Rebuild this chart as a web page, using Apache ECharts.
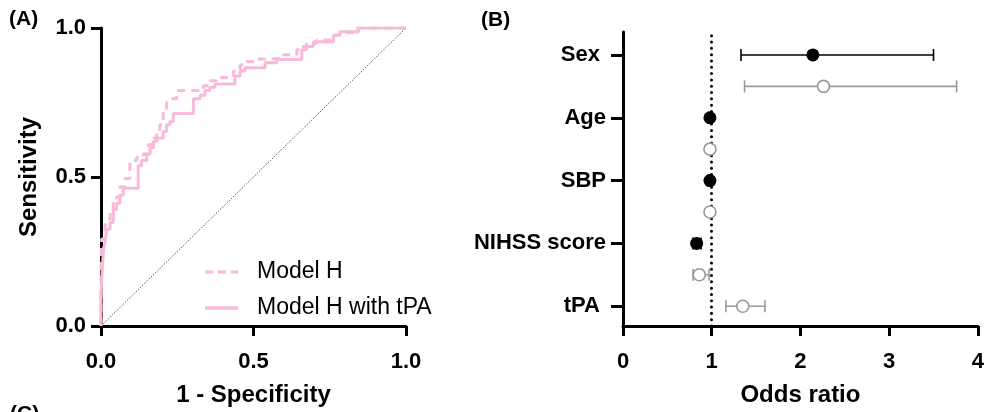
<!DOCTYPE html>
<html>
<head>
<meta charset="utf-8">
<script src="https://cdn.jsdelivr.net/npm/echarts@6/dist/echarts.min.js"></script>
<style>
html,body{margin:0;padding:0;background:#fff;}
#chart{width:987px;height:412px;}
</style>
</head>
<body>
<div id="chart"></div>
<script>
// ---- Panel A: ROC curves ----
const rocFprH = [0, 0.002, 0.013, 0.019, 0.030, 0.040, 0.051, 0.062, 0.079, 0.095, 0.095, 0.117, 0.139, 0.155, 0.172, 0.183, 0.193, 0.204, 0.215, 0.221, 0.248, 0.259, 0.336, 0.357, 0.379, 0.434, 0.456, 0.478, 0.510, 0.554, 0.598, 0.642, 0.652, 0.674, 0.707, 0.762, 0.773, 0.795, 0.838, 0.849, 1.0];
const rocSensH = [0, 0.172, 0.292, 0.336, 0.358, 0.391, 0.423, 0.434, 0.467, 0.495, 0.555, 0.555, 0.566, 0.577, 0.609, 0.631, 0.653, 0.675, 0.719, 0.746, 0.763, 0.790, 0.790, 0.806, 0.823, 0.834, 0.856, 0.877, 0.888, 0.896, 0.899, 0.910, 0.927, 0.938, 0.949, 0.960, 0.976, 0.982, 0.987, 1.0, 1.0];
const rocFprT = [0, 0.002, 0.008, 0.013, 0.019, 0.030, 0.040, 0.051, 0.062, 0.073, 0.084, 0.122, 0.122, 0.133, 0.150, 0.161, 0.172, 0.183, 0.204, 0.215, 0.226, 0.237, 0.248, 0.303, 0.303, 0.325, 0.341, 0.357, 0.374, 0.390, 0.439, 0.439, 0.456, 0.472, 0.478, 0.538, 0.538, 0.576, 0.576, 0.658, 0.658, 0.674, 0.696, 0.702, 0.762, 0.762, 0.784, 0.805, 0.844, 0.844, 1.0];
const rocSensT = [0, 0.084, 0.150, 0.259, 0.281, 0.325, 0.347, 0.391, 0.412, 0.440, 0.462, 0.462, 0.527, 0.538, 0.555, 0.577, 0.598, 0.620, 0.631, 0.653, 0.675, 0.686, 0.713, 0.713, 0.741, 0.763, 0.774, 0.790, 0.801, 0.812, 0.812, 0.828, 0.839, 0.856, 0.867, 0.867, 0.883, 0.883, 0.894, 0.894, 0.910, 0.927, 0.938, 0.954, 0.954, 0.965, 0.976, 0.987, 0.987, 1.0, 1.0];
const refLine = [0, 1];
const rocSeriesNames = ['Model H', 'Model H with tPA'];

// ---- Panel B: odds ratios ----
const orCategories = ['Sex', 'Age', 'SBP', 'NIHSS score', 'tPA'];
const orModelH   = [2.14, 0.98, 0.98, 0.83, null];
const orModelHLo = [1.33, 0.96, 0.96, 0.79, null];
const orModelHHi = [3.50, 1.00, 1.00, 0.88, null];
const orModelT   = [2.26, 0.98, 0.98, 0.86, 1.35];
const orModelTLo = [1.37, 0.96, 0.96, 0.79, 1.16];
const orModelTHi = [3.76, 1.00, 1.00, 0.97, 1.60];
const orRefValue = 1;

const PINK = '#F8BAD8';
const GRAY = '#999999';
const FONT = 'Liberation Sans';

// row positions (layout)
const nCat = orCategories.length;
const rowFilled = [], rowOpen = [];
const labelRows = [];
for (let i = 0; i < nCat; i++) {
  const top = 2 * (nCat - 1) + 1 - 2 * i; // 9,7,5,3,1
  labelRows.push(top);
  if (orModelH[i] != null) { rowFilled.push(top); rowOpen.push(top - 1); }
  else { rowFilled.push(null); rowOpen.push(top); }
}

const dataH = rocFprH.map((x, i) => [x, rocSensH[i]]);
const dataT = rocFprT.map((x, i) => [x, rocSensT[i]]);

const filledPts = [], filledBars = [], openPts = [], openBars = [];
for (let i = 0; i < nCat; i++) {
  if (orModelH[i] != null) {
    filledPts.push([orModelH[i], rowFilled[i]]);
    filledBars.push([orModelHLo[i], orModelHHi[i], rowFilled[i]]);
  }
  openPts.push([orModelT[i], rowOpen[i]]);
  openBars.push([orModelTLo[i], orModelTHi[i], rowOpen[i]]);
}

function errRender(color) {
  return function (params, api) {
    const lo = api.coord([api.value(0), api.value(2)]);
    const hi = api.coord([api.value(1), api.value(2)]);
    const h = 6;
    const st = { stroke: color, lineWidth: 1.6 };
    return {
      type: 'group',
      children: [
        { type: 'line', shape: { x1: lo[0], y1: lo[1], x2: hi[0], y2: hi[1] }, style: st },
        { type: 'line', shape: { x1: lo[0], y1: lo[1] - h, x2: lo[0], y2: lo[1] + h }, style: st },
        { type: 'line', shape: { x1: hi[0], y1: hi[1] - h, x2: hi[0], y2: hi[1] + h }, style: st }
      ]
    };
  };
}

const axisLineStyle = { color: '#000', width: 3 };
const tickLabel = { color: '#000', fontSize: 22, fontWeight: 'bold', fontFamily: FONT };
const nameStyle = { color: '#000', fontSize: 24, fontWeight: 'bold', fontFamily: FONT };
const legendText = { fontSize: 23, fontFamily: FONT, fill: '#000' };

const chart = echarts.init(document.getElementById('chart'), null, { renderer: 'canvas' });
chart.setOption({
  animation: false,
  backgroundColor: '#fff',
  grid: [
    { left: 101, width: 305, top: 28, height: 304 },
    { left: 623, width: 357, top: 32, height: 300 }
  ],
  xAxis: [
    {
      gridIndex: 0, type: 'value', min: 0, max: 1, interval: 0.5,
      name: '1 - Specificity', nameLocation: 'middle', nameGap: 57, nameTextStyle: nameStyle,
      axisLine: { show: true, lineStyle: axisLineStyle },
      axisTick: { show: true, length: 10, lineStyle: { color: '#000', width: 3 } },
      axisLabel: Object.assign({ margin: 25, formatter: v => v.toFixed(1) }, tickLabel),
      splitLine: { show: false }
    },
    {
      gridIndex: 1, type: 'value', min: 0, max: 4, interval: 1,
      name: 'Odds ratio', nameLocation: 'middle', nameGap: 57, nameTextStyle: nameStyle,
      axisLine: { show: true, lineStyle: axisLineStyle },
      axisTick: { show: true, length: 10, lineStyle: { color: '#000', width: 3 } },
      axisLabel: Object.assign({ margin: 25 }, tickLabel),
      splitLine: { show: false }
    }
  ],
  yAxis: [
    {
      gridIndex: 0, type: 'value', min: 0, max: 1, interval: 0.5,
      name: 'Sensitivity', nameLocation: 'middle', nameGap: 60, nameTextStyle: nameStyle,
      axisLine: { show: true, lineStyle: axisLineStyle },
      axisTick: { show: true, length: 10, lineStyle: { color: '#000', width: 3 } },
      axisLabel: Object.assign({ margin: 15, formatter: v => v.toFixed(1) }, tickLabel),
      splitLine: { show: false }
    },
    {
      gridIndex: 1, type: 'value', min: 0.37, max: 9.73,
      axisLine: { show: true, lineStyle: axisLineStyle },
      axisTick: { show: true, length: 12, customValues: labelRows, lineStyle: { color: '#000', width: 3 } },
      axisLabel: Object.assign({}, tickLabel, {
        fontSize: 22, margin: 17, customValues: labelRows,
        formatter: v => {
          const i = Math.round((labelRows[0] - v) / 2);
          const s = orCategories[i] || '';
          return (i === 0 || i === nCat - 1) ? s + ' ' : s;
        }
      }),
      splitLine: { show: false }
    }
  ],
  graphic: [
    { type: 'text', left: 9, top: 9, style: { text: '(A)', fontSize: 21, fontWeight: 'bold', fontFamily: FONT, fill: '#000' } },
    { type: 'text', left: 481, top: 10, style: { text: '(B)', fontSize: 21, fontWeight: 'bold', fontFamily: FONT, fill: '#000' } },
    { type: 'text', left: 10, top: 404, style: { text: '(C)', fontSize: 21, fontWeight: 'bold', fontFamily: FONT, fill: '#000' } },
    // legend (panel A)
    { type: 'line', shape: { x1: 205, y1: 272, x2: 238, y2: 272 }, style: { stroke: PINK, lineWidth: 3, lineDash: [8, 5] } },
    { type: 'text', left: 257, top: 260, style: Object.assign({ text: rocSeriesNames[0] }, legendText) },
    { type: 'line', shape: { x1: 205, y1: 308, x2: 238, y2: 308 }, style: { stroke: PINK, lineWidth: 3.5 } },
    { type: 'text', left: 257, top: 296, style: Object.assign({ text: rocSeriesNames[1] }, legendText) }
  ],
  series: [
    {
      name: 'ref', type: 'line', xAxisIndex: 0, yAxisIndex: 0, symbol: 'none', silent: true,
      data: [[refLine[0], refLine[0]], [refLine[1], refLine[1]]],
      lineStyle: { color: '#222', width: 1, type: [1, 1.6] }, z: 1
    },
    {
      name: rocSeriesNames[0], type: 'line', xAxisIndex: 0, yAxisIndex: 0, symbol: 'none', step: 'start',
      data: dataH, itemStyle: { color: PINK },
      lineStyle: { color: PINK, width: 3, type: [8, 6] }, z: 3
    },
    {
      name: rocSeriesNames[1], type: 'line', xAxisIndex: 0, yAxisIndex: 0, symbol: 'none', step: 'start',
      data: dataT, itemStyle: { color: PINK },
      lineStyle: { color: PINK, width: 3 }, z: 4
    },
    {
      name: 'or1line', type: 'line', xAxisIndex: 1, yAxisIndex: 1, symbol: 'none', data: [],
      markLine: {
        silent: true, symbol: 'none', label: { show: false },
        lineStyle: { color: '#000', width: 3, type: [0.01, 6.3], cap: 'round' },
        data: [{ xAxis: orRefValue }]
      }
    },
    {
      name: 'filledBars', type: 'custom', xAxisIndex: 1, yAxisIndex: 1,
      renderItem: errRender('#000'), data: filledBars, z: 5
    },
    {
      name: 'openBars', type: 'custom', xAxisIndex: 1, yAxisIndex: 1,
      renderItem: errRender(GRAY), data: openBars, z: 5
    },
    {
      name: 'filled', type: 'scatter', xAxisIndex: 1, yAxisIndex: 1, symbol: 'circle', symbolSize: 13,
      data: filledPts, itemStyle: { color: '#000', opacity: 1 }, z: 10
    },
    {
      name: 'open', type: 'scatter', xAxisIndex: 1, yAxisIndex: 1, symbol: 'circle', symbolSize: 12,
      data: openPts, itemStyle: { color: '#fff', borderColor: GRAY, borderWidth: 1.6, opacity: 1 }, z: 10
    }
  ]
});
</script>
</body>
</html>
